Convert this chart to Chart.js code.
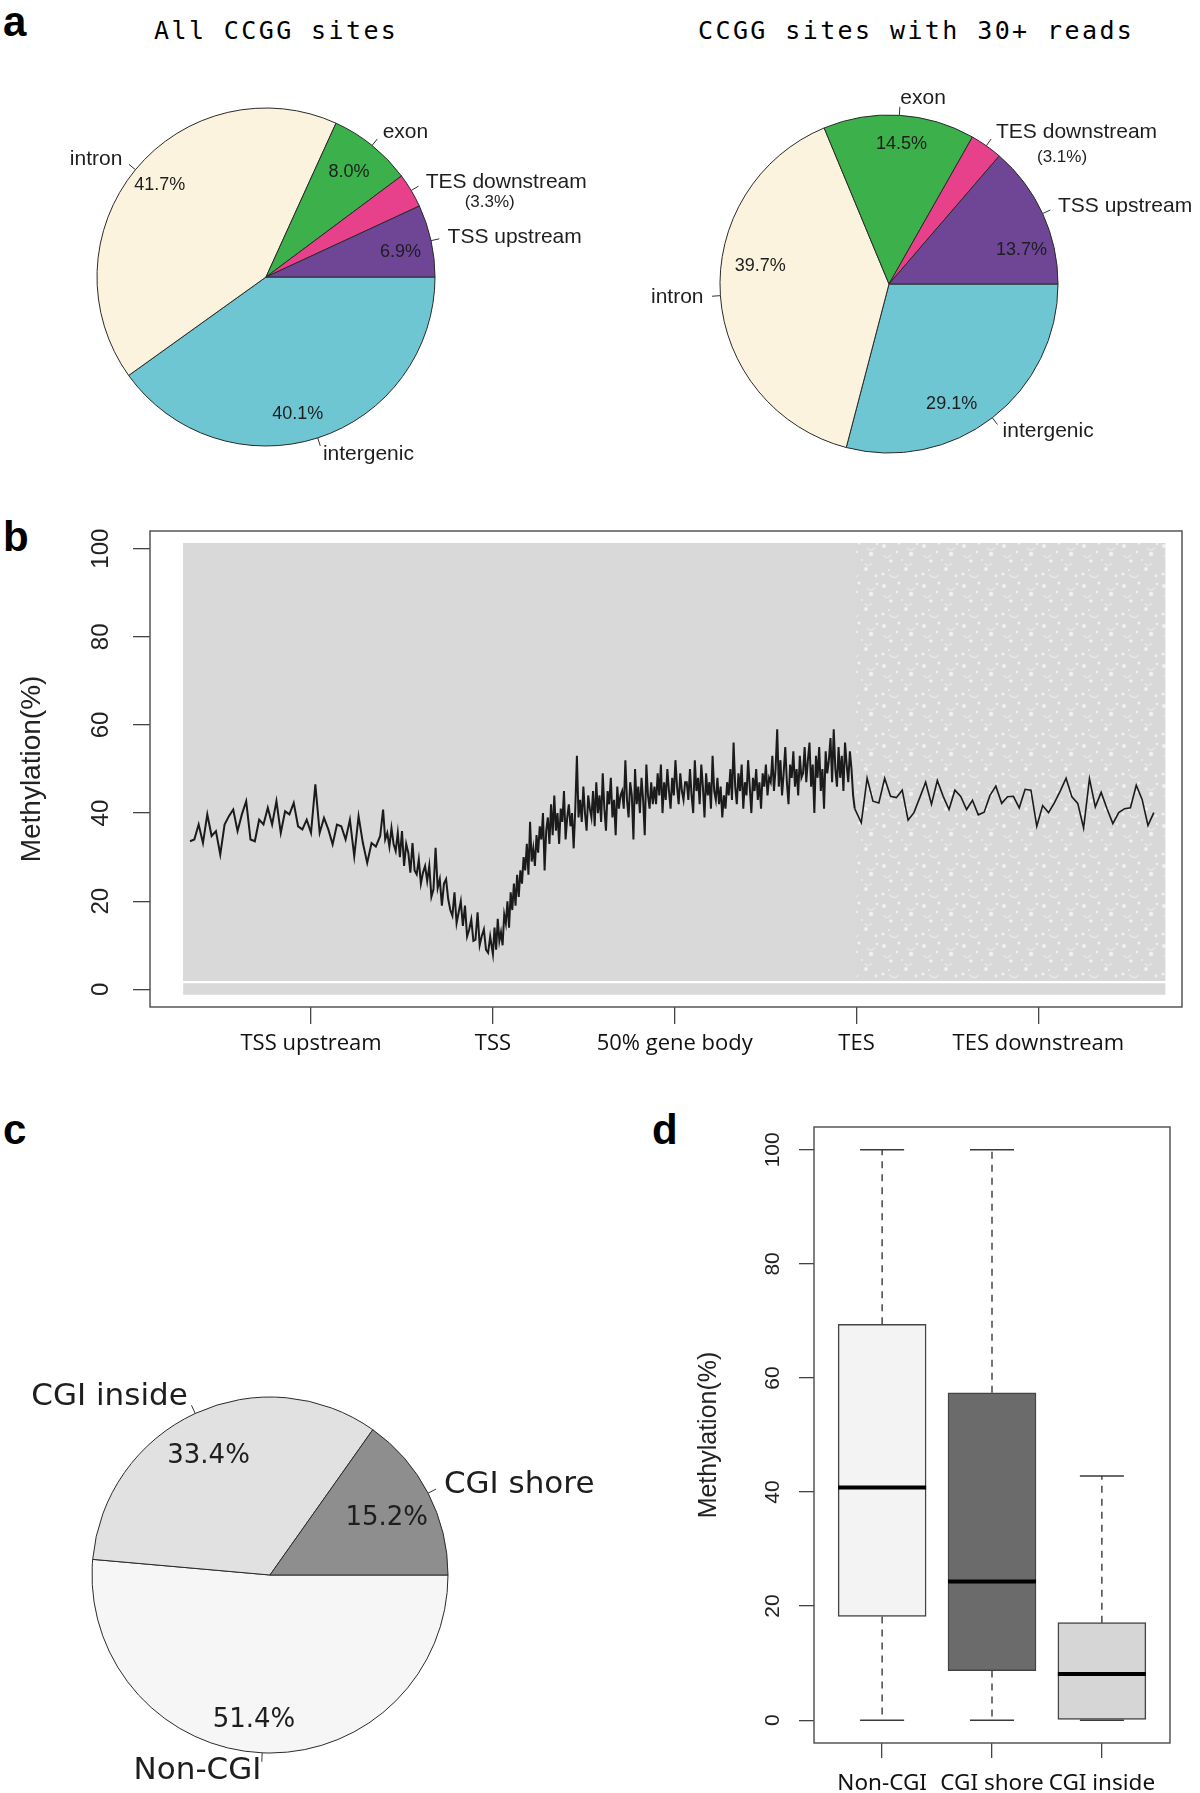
<!DOCTYPE html>
<html lang="en">
<head>
<meta charset="UTF-8" />
<title>CCGG site methylation</title>
<script src="https://cdn.jsdelivr.net/npm/chart.js"></script>
<style>
  body { margin: 0; background: #fff; width: 1200px; height: 1793px; position: relative; overflow: hidden; }
  canvas { position: absolute; }
  .panel { position: absolute; font-family: "Liberation Sans", Arial, sans-serif; font-weight: bold; font-size: 42px; line-height: 42px; color: #000; }
  .title { position: absolute; font-family: "DejaVu Sans Mono", monospace; font-size: 25px; line-height: 25px; letter-spacing: 2.4px; color: #000; white-space: pre; }
</style>
</head>
<body>
  <div class="panel" style="left:3px;top:1px">a</div>
  <div class="panel" style="left:3px;top:516px">b</div>
  <div class="panel" style="left:3px;top:1109px">c</div>
  <div class="panel" style="left:652px;top:1109px">d</div>
  <div class="title" style="left:154px;top:18px">All CCGG sites</div>
  <div class="title" style="left:698px;top:18px">CCGG sites with 30+ reads</div>

  <canvas id="pieAll" width="600" height="450" style="left:0;top:50px"></canvas>
  <canvas id="pieDeep" width="600" height="450" style="left:600px;top:50px"></canvas>
  <canvas id="profile" width="1200" height="580" style="left:0;top:500px"></canvas>
  <canvas id="pieCgi" width="650" height="643" style="left:0;top:1150px"></canvas>
  <canvas id="boxCgi" width="550" height="693" style="left:650px;top:1100px"></canvas>

<script>
// ---- panel a: share of CCGG sites per genomic feature (%)
const regionNames = ['TSS upstream', 'TES downstream', 'exon', 'intron', 'intergenic'];
const allSitesPct = [6.9, 3.3, 8.0, 41.7, 40.1];
const deepSitesPct = [13.7, 3.1, 14.5, 39.7, 29.1];
const regionColors = ['#6f4596', '#e8418c', '#3cb04a', '#fbf3dd', '#6dc6d2'];

// ---- panel b: methylation profile along the gene
const profileTicks = ['TSS upstream', 'TSS', '50% gene body', 'TES', 'TES downstream'];
const methTicks = [0, 20, 40, 60, 80, 100];
const upFarMeth = [33.6, 34.0, 37.4, 33.2, 39.7, 34.8, 35.9, 30.6, 37.4, 39.3, 40.8, 35.9, 39.7, 42.7, 34.0,
  33.6, 38.5, 37.4, 41.2, 37.4, 42.7, 35.5, 40.4, 39.7, 42.3, 37.0, 36.3, 38.5, 35.5, 46.5, 35.5, 38.9, 36.3,
  32.9, 37.4, 37.0, 34.0, 38.5, 30.2, 39.3, 33.2, 28.7, 33.2, 32.4, 34.8];
const upNearMeth = [40.8, 34.0, 35.5, 32.4, 36.6, 33.0, 31.4, 35.5, 30.0, 35.9, 28.0, 33.0, 31.0, 26.5, 33.2,
  27.0, 26.1, 29.5, 24.0, 26.5, 28.0, 24.6, 28.0, 21.0, 22.7, 32.1, 23.0, 25.0, 19.0, 24.0, 25.0, 20.5, 18.0,
  16.7, 22.0, 15.0, 17.5, 20.0, 14.4, 19.0, 12.0, 13.6, 15.9, 11.0, 11.3, 17.5, 10.0, 12.1, 13.6, 9.0, 8.3, 12.0];
const bodyMeth = [8, 14, 9, 16, 11, 13, 10, 17,
  15, 20, 14, 22, 18, 24, 19, 26, 21, 27,
  24, 30, 27, 33, 26, 38, 29, 32, 28, 35,
  31, 37, 34, 40, 27, 36, 39, 33, 42, 35,
  44, 36, 40, 33, 41, 38, 45, 34, 39, 42, 37, 40, 32, 41,
  53, 39,
  43, 38, 46, 40, 36, 44, 41, 39, 45, 37,
  47, 40, 44, 38, 49, 41, 36, 45, 42, 48, 39, 43, 35, 46, 41, 44,
  45, 41, 52, 43, 39, 47, 44, 34, 50, 42, 46, 40, 48, 43, 35, 51, 44, 41, 47, 42,
  46, 42, 49, 44, 51, 40, 47, 43, 50, 45, 41, 48, 44, 52, 46, 42, 49, 45, 43, 47,
  47, 43, 50, 44, 40, 52, 45, 48, 42, 51, 46, 39, 49, 44, 47, 41, 53, 45, 43, 48, 42, 46, 39, 44,
  41, 47, 44, 50, 43, 56, 46, 42, 49, 45, 51, 41, 47, 44, 52, 46, 40, 48, 45, 50, 43, 47, 41, 49, 46, 51, 44, 48,
  47, 53, 45, 50, 59, 46, 52, 44, 49, 55, 47, 42, 51, 48, 54, 46, 50, 44, 53, 48,
  49, 55, 47, 52, 56, 46, 51, 40, 53, 48, 55, 45, 50, 41, 54, 49, 52, 57, 47, 59, 50, 46, 55, 48, 53, 45, 56, 51, 47, 54, 50, 44,
  41];
const downMeth = [37.8, 47.9, 42.7, 42.3, 47.9, 43.8, 43.5, 45.2, 38.4, 40.1, 43.5, 47.0, 42.0, 47.4, 43.8, 40.8,
  45.2, 43.8, 40.8, 42.9, 39.6, 40.2, 44.0, 46.1, 42.2, 43.7, 43.8, 41.2, 45.4, 45.2, 37.0, 41.7, 40.1, 42.3,
  45.0, 47.9, 43.7, 42.2, 36.6, 47.8, 41.4, 44.7, 41.0, 37.6, 40.1, 41.0, 41.2, 46.3, 43.1, 37.2, 40.1];
// bin extents, in axis units (1 = TSS upstream ... 5 = TES downstream)
const upFarSpan = [0.334, 1.38];
const upNearSpan = [1.396, 1.985];
const bodySpan = [2.0, 3.99];
const downSpan = [4.026, 5.635];
// extent of the per-site point cloud: x start, TES, x end; y levels
const cloudX = [0.296, 4.0, 5.70];
const cloudY = [-1.2, 1.4, 1.9, 101.3];

// ---- panel c: CCGG sites relative to CpG islands (%)
const cgiNames = ['CGI shore', 'CGI inside', 'Non-CGI'];
const cgiPct = [15.2, 33.4, 51.4];
const cgiColors = ['#8e8e8e', '#e1e1e1', '#f6f6f6'];

// ---- panel d: methylation boxplots
const boxNames = ['Non-CGI', 'CGI shore', 'CGI inside'];
const boxLow = [0, 0, 0];
const boxQ1 = [18.2, 8.7, 0];
const boxMed = [40.8, 24.3, 8.1];
const boxQ3 = [69.4, 57.4, 17.1];
const boxHigh = [100, 100, 42.8];
const boxColors = ['#f3f3f3', '#6b6b6b', '#d6d6d6'];

const base = { responsive: false, animation: false, events: [], devicePixelRatio: 1 };

// R-style pie labels: tick from r to 1.05r, name at 1.1r, percent inside
// pctAt places a percent by hand (angle in degrees counter-clockwise from 3 o'clock, fraction of radius)
const pieLabels = {
  id: 'pieLabels',
  afterDatasetsDraw(chart, args, opts) {
    const ctx = chart.ctx;
    const names = chart.data.labels;
    const vals = chart.data.datasets[0].data;
    ctx.save();
    chart.getDatasetMeta(0).data.forEach((arc, i) => {
      const p = arc.getProps(['x', 'y', 'startAngle', 'endAngle', 'outerRadius'], true);
      const mid = (p.startAngle + p.endAngle) / 2;
      const c = Math.cos(mid), s = Math.sin(mid), r = p.outerRadius;
      ctx.strokeStyle = '#333';
      ctx.lineWidth = 1;
      ctx.beginPath();
      ctx.moveTo(p.x + r * c, p.y + r * s);
      ctx.lineTo(p.x + 1.05 * r * c, p.y + 1.05 * r * s);
      ctx.stroke();
      const lx = p.x + 1.1 * r * c, ly = p.y + 1.1 * r * s;
      ctx.fillStyle = '#1e1e1e';
      ctx.textBaseline = 'middle';
      ctx.font = opts.nameFont;
      ctx.textAlign = c >= 0 ? 'left' : 'right';
      ctx.fillText(names[i], lx, ly);
      const pct = vals[i].toFixed(1) + '%';
      ctx.textAlign = 'center';
      if (opts.outside && opts.outside.includes(names[i])) {
        ctx.font = opts.subFont;
        ctx.fillText('(' + pct + ')', lx + opts.subDx, ly + opts.subDy);
      } else {
        ctx.font = opts.pctFont;
        const at = opts.pctAt && opts.pctAt[names[i]];
        const a = at ? -at[0] * Math.PI / 180 : mid;
        const f = at ? at[1] : 0.8;
        ctx.fillText(pct, p.x + f * r * Math.cos(a), p.y + f * r * Math.sin(a));
      }
    });
    ctx.restore();
  }
};

const frame = {
  id: 'frame',
  afterDraw(chart) {
    const a = chart.chartArea, ctx = chart.ctx;
    ctx.save();
    ctx.strokeStyle = '#555';
    ctx.lineWidth = 1.5;
    ctx.strokeRect(a.left, a.top, a.right - a.left, a.bottom - a.top);
    ctx.restore();
  }
};

function makePie(id, names, pct, colors, pad, labelOpts) {
  // R draws counter-clockwise from 3 o'clock; Chart.js goes clockwise, so reverse
  return new Chart(document.getElementById(id), {
    type: 'pie',
    data: {
      labels: names.slice().reverse(),
      datasets: [{
        data: pct.slice().reverse(),
        backgroundColor: colors.slice().reverse(),
        borderColor: '#2a2a2a',
        borderWidth: 1
      }]
    },
    options: Object.assign({}, base, {
      rotation: 90,
      layout: { padding: pad },
      plugins: { legend: { display: false }, tooltip: { enabled: false }, pieLabels: labelOpts }
    }),
    plugins: [pieLabels]
  });
}

const aFonts = { nameFont: '21px "Liberation Sans"', pctFont: '18px "Liberation Sans"', subFont: '17px "Liberation Sans"',
  outside: ['TES downstream'] };
makePie('pieAll', regionNames, allSitesPct, regionColors,
  { left: 96.5, top: 57.5, right: 164.5, bottom: 53.5 },
  Object.assign({ subDx: 64, subDy: 20,
    pctAt: { 'intron': [139.3, 0.83], 'intergenic': [283.1, 0.83], 'exon': [51.6, 0.79], 'TSS upstream': [10.6, 0.81] } }, aFonts));
makePie('pieDeep', regionNames, deepSitesPct, regionColors,
  { left: 119.5, top: 64.5, right: 141.5, bottom: 46.5 },
  Object.assign({ subDx: 66, subDy: 25,
    pctAt: { 'exon': [84.9, 0.83], 'intron': [171.9, 0.77], 'TSS upstream': [14.5, 0.81], 'intergenic': [297.6, 0.8] } }, aFonts));
makePie('pieCgi', cgiNames, cgiPct, cgiColors,
  { left: 91.5, top: 246.5, right: 201.5, bottom: 39.5 },
  { nameFont: '31px "DejaVu Sans"', pctFont: '26px "DejaVu Sans"', outside: [],
    pctAt: { 'CGI inside': [117.4, 0.75], 'CGI shore': [26.1, 0.73], 'Non-CGI': [263.7, 0.82] } });

// ---- panel b
function spread(values, span) {
  const step = (span[1] - span[0]) / (values.length - 1);
  return values.map((v, i) => ({ x: span[0] + i * step, y: v }));
}
const profilePoints = [].concat(spread(upFarMeth, upFarSpan), spread(upNearMeth, upNearSpan),
  spread(bodyMeth, bodySpan), spread(downMeth, downSpan));

// light speckled texture for the sparse part of the point cloud
const speckle = (function () {
  const c = document.createElement('canvas');
  c.width = 40; c.height = 40;
  const g = c.getContext('2d');
  g.fillStyle = '#d8d8d8';
  g.fillRect(0, 0, 40, 40);
  g.fillStyle = '#f1f1f1';
  [[4, 6, 2.0], [19, 3, 1.5], [31, 14, 2.2], [11, 21, 1.7], [26, 29, 2.0], [3, 34, 1.5], [17, 12, 1.2],
   [36, 36, 1.4], [37, 4, 1.2], [22, 20, 1.0], [9, 30, 1.0]]
    .forEach(([x, y, r]) => { g.beginPath(); g.arc(x, y, r, 0, Math.PI * 2); g.fill(); });
  g.strokeStyle = '#ebebeb';
  g.lineWidth = 1.1;
  [[14, 33, 4.5], [31, 6, 4], [7, 14, 3.5], [28, 22, 3.5]].forEach(([x, y, r]) => {
    g.beginPath(); g.arc(x, y, r, 0.3, 2.8); g.stroke();
  });
  return document.getElementById('profile').getContext('2d').createPattern(c, 'repeat');
})();

function cloudBand(x0, x1, top, bottom, color) {
  return {
    data: [{ x: x0, y: top }, { x: x1, y: top }],
    fill: { value: bottom }, backgroundColor: color,
    borderColor: 'transparent', borderWidth: 0, pointRadius: 0
  };
}

const axisGrey = '#444';
new Chart(document.getElementById('profile'), {
  type: 'line',
  data: {
    datasets: [
      { data: profilePoints, borderColor: '#1b1b1b', borderWidth: 1.6, pointRadius: 0, fill: false, tension: 0,
        // the dense bins before TES read as a thicker band
        segment: { borderWidth: ctx => ctx.p1.parsed.x <= cloudX[1] ? 2.0 : 1.6 } },
      cloudBand(cloudX[0], cloudX[1], cloudY[3], cloudY[2], '#d9d9d9'),
      cloudBand(cloudX[0], cloudX[2], cloudY[3], cloudY[2], speckle),
      cloudBand(cloudX[0], cloudX[2], cloudY[1], cloudY[0], '#d9d9d9')
    ]
  },
  options: Object.assign({}, base, {
    layout: { padding: { left: 0, top: 31, right: 18, bottom: 0 } },
    plugins: { legend: { display: false }, tooltip: { enabled: false } },
    scales: {
      x: {
        type: 'linear', min: 0.114, max: 5.79,
        afterBuildTicks: s => { s.ticks = profileTicks.map((_, i) => ({ value: i + 1 })); },
        afterFit: s => { s.height = 73; },
        ticks: { callback: v => profileTicks[v - 1], autoSkip: false, maxRotation: 0, padding: 7,
          color: '#111', font: { family: '"Open Sans"', size: 22 } },
        grid: { drawOnChartArea: false, tickLength: 17, color: axisGrey, lineWidth: 1.3 },
        border: { display: false }
      },
      y: {
        min: -4, max: 104,
        afterBuildTicks: s => { s.ticks = methTicks.map(v => ({ value: v })); },
        afterFit: s => { s.width = 150; },
        ticks: { minRotation: 90, maxRotation: 90, crossAlign: 'center', padding: 12,
          color: '#222', font: { family: '"Liberation Sans"', size: 24 } },
        grid: { drawOnChartArea: false, tickLength: 17, color: axisGrey, lineWidth: 1.3 },
        border: { display: false },
        title: { display: true, text: 'Methylation(%)', color: '#222', padding: { top: 15, bottom: 0 },
          font: { family: '"Liberation Sans"', size: 28 } }
      }
    }
  }),
  plugins: [frame]
});

// ---- panel d
const whiskers = {
  id: 'whiskers',
  afterDatasetsDraw(chart) {
    const ctx = chart.ctx, xs = chart.scales.x, ys = chart.scales.y;
    ctx.save();
    chart.getDatasetMeta(0).data.forEach((bar, i) => {
      const cx = xs.getPixelForValue(i + 1), w = bar.width;
      ctx.strokeStyle = '#3a3a3a';
      ctx.lineWidth = 1.4;
      ctx.setLineDash([7, 6]);
      ctx.beginPath();
      ctx.moveTo(cx, ys.getPixelForValue(boxQ3[i])); ctx.lineTo(cx, ys.getPixelForValue(boxHigh[i]));
      if (boxQ1[i] > boxLow[i]) { ctx.moveTo(cx, ys.getPixelForValue(boxQ1[i])); ctx.lineTo(cx, ys.getPixelForValue(boxLow[i])); }
      ctx.stroke();
      ctx.setLineDash([]);
      ctx.beginPath();
      [boxHigh[i], boxLow[i]].forEach(v => {
        const py = ys.getPixelForValue(v);
        ctx.moveTo(cx - w / 4, py); ctx.lineTo(cx + w / 4, py);
      });
      ctx.stroke();
      const my = ys.getPixelForValue(boxMed[i]);
      ctx.strokeStyle = '#000';
      ctx.lineWidth = 4;
      ctx.beginPath(); ctx.moveTo(cx - w / 2, my); ctx.lineTo(cx + w / 2, my); ctx.stroke();
    });
    ctx.restore();
  }
};

new Chart(document.getElementById('boxCgi'), {
  type: 'bar',
  data: {
    datasets: [{
      data: boxNames.map((_, i) => ({ x: i + 1, y: [boxQ1[i], boxQ3[i]] })),
      backgroundColor: boxColors, borderColor: '#444', borderWidth: 1.5, borderSkipped: false,
      barThickness: 88
    }]
  },
  options: Object.assign({}, base, {
    layout: { padding: { left: 0, top: 27, right: 30, bottom: 0 } },
    plugins: { legend: { display: false }, tooltip: { enabled: false } },
    scales: {
      x: {
        type: 'linear', min: 0.38, max: 3.62, offset: false,
        afterBuildTicks: s => { s.ticks = boxNames.map((_, i) => ({ value: i + 1 })); },
        afterFit: s => { s.height = 50; },
        ticks: { callback: v => boxNames[v - 1], autoSkip: false, maxRotation: 0, padding: 12,
          color: '#111', font: { family: '"Noto Sans"', size: 22.5 } },
        grid: { drawOnChartArea: false, offset: false, tickLength: 15, color: axisGrey, lineWidth: 1.3 },
        border: { display: false }
      },
      y: {
        min: -4, max: 104,
        afterBuildTicks: s => { s.ticks = methTicks.map(v => ({ value: v })); },
        afterFit: s => { s.width = 164; },
        ticks: { minRotation: 90, maxRotation: 90, crossAlign: 'center', padding: 8.5,
          color: '#222', font: { family: '"Liberation Sans"', size: 21 } },
        grid: { drawOnChartArea: false, tickLength: 15, color: axisGrey, lineWidth: 1.3 },
        border: { display: false },
        title: { display: true, text: 'Methylation(%)', color: '#222', padding: { top: 44, bottom: 0 },
          font: { family: '"Liberation Sans"', size: 25 } }
      }
    }
  }),
  plugins: [whiskers, frame]
});
</script>
</body>
</html>
